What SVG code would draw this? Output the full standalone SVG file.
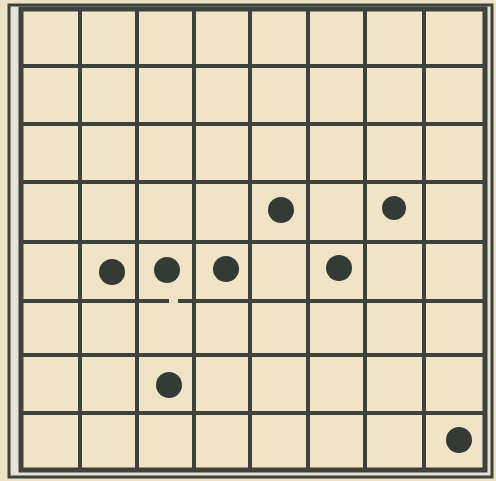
<svg xmlns="http://www.w3.org/2000/svg" width="496" height="481" viewBox="0 0 496 481">
<style>
.g{stroke:#3d423a;stroke-width:4;stroke-linecap:square;fill:none}
.b{stroke:#3d423a;fill:none}
.d{fill:#343a34}
</style>
<rect width="496" height="481" fill="#ece2c6"/>
<rect x="10" y="5" width="482" height="472" fill="#e6e1d0"/>
<rect x="21" y="10" width="464" height="460" fill="#efe4c6"/>
<g id="border">
<rect class="b" x="9" y="5" width="483" height="472" stroke-width="3"/>
<rect class="b" x="21" y="9" width="464" height="461" stroke-width="5"/>
</g>
<g id="grid">
<path class="g" d="M80 9V470M137 9V470M194 9V470M250 9V470M308 9V470M365 9V470M424 9V470"/>
<path class="g" d="M21 66H485M21 124H485M21 182H485M21 242H485M21 355H485M21 413H485"/>
<path class="g" stroke-linecap="butt" d="M21 301H167M180 301H485"/>
</g>
<g id="dots">
<circle class="d" cx="281" cy="210" r="13"/>
<circle class="d" cx="394" cy="208" r="12"/>
<circle class="d" cx="112" cy="272" r="13"/>
<circle class="d" cx="167" cy="270" r="13"/>
<circle class="d" cx="226" cy="269" r="13"/>
<circle class="d" cx="339" cy="268" r="13"/>
<circle class="d" cx="169" cy="385" r="13"/>
<circle class="d" cx="459" cy="440" r="13"/>
</g>
</svg>
